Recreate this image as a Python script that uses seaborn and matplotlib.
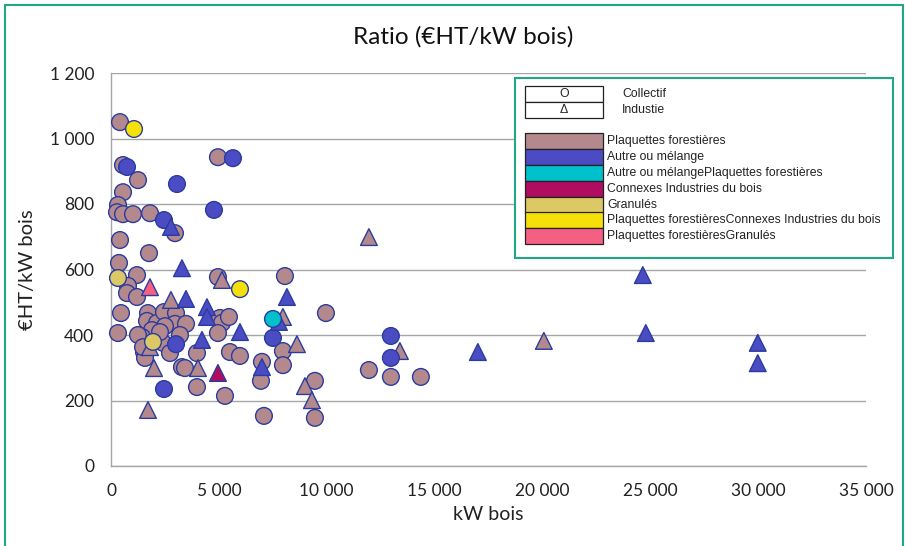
import matplotlib
matplotlib.use("Agg")
import matplotlib.pyplot as plt
from matplotlib.patches import Rectangle
from matplotlib.ticker import FuncFormatter, MultipleLocator
import seaborn as sns
import pandas as pd

sns.set_style("white")
plt.rcParams['font.family'] = ['Lato', 'DejaVu Sans']

# ---------------- data ----------------
categories = [
    "Plaquettes forestières",
    "Autre ou mélange",
    "Autre ou mélangePlaquettes forestières",
    "Connexes Industries du bois",
    "Granulés",
    "Plaquettes forestièresConnexes Industries du bois",
    "Plaquettes forestièresGranulés",
]
cat_colors = ["#B4898E", "#4B4BC3", "#00C0CC", "#B00C60", "#DCC864", "#F5E00A", "#F55F82"]
types = ["Collectif", "Industie"]
type_symbols = ["O", "Δ"]

# Plaquettes forestières - Collectif
pf_col_x = [417, 556, 1251, 556, 324, 278, 556, 1019, 1807, 2966, 4958, 417, 1761, 371,
            1205, 788, 741, 1205, 4958, 8063, 463, 324, 1715, 1668, 2132, 2456, 3012,
            2966, 2502, 3476, 1900, 1437, 1251, 3197, 2410, 2734, 1529, 1576, 1483,
            3290, 3429, 3985, 5283, 5051, 5144, 5468, 4958, 3985, 5514, 5978, 9963,
            7970, 6997, 7970, 6951, 9453, 7090, 9453, 11956, 12975, 14365, 2271]
pf_col_y = [1050, 919, 873, 836, 797, 775, 769, 769, 772, 711, 943, 690, 650, 620,
            583, 550, 528, 516, 577, 580, 467, 406, 467, 443, 437, 470, 467,
            434, 427, 434, 415, 394, 400, 400, 376, 345, 348, 330, 363,
            302, 299, 241, 214, 452, 437, 455, 406, 345, 348, 336, 467,
            351, 318, 308, 260, 260, 153, 147, 293, 272, 272, 409]
# Plaquettes forestières - Industie
pf_ind_x = [5144, 11956, 2780, 7970, 8619, 8990, 9314, 13392, 20065, 1993, 4032, 1715, 1807]
pf_ind_y = [568, 699, 507, 455, 372, 244, 201, 351, 382, 299, 299, 171, 363]
# Autre ou mélange - Collectif
am_col_x = [741, 3058, 2456, 4773, 5653, 3012, 2456, 7507, 12975, 12975]
am_col_y = [913, 861, 751, 782, 940, 372, 235, 391, 397, 330]
# Autre ou mélange - Industie
am_ind_x = [2780, 3290, 3476, 4449, 4449, 5978, 4217, 8156, 7785, 6997, 17007, 24653, 24792, 29982, 29982]
am_ind_y = [730, 604, 510, 485, 455, 409, 385, 516, 440, 302, 348, 583, 406, 376, 314]
# Autre ou mélangePlaquettes forestières - Collectif
amp_col_x = [7507]
amp_col_y = [449]
# Connexes Industries du bois - Industie
cib_ind_x = [4958]
cib_ind_y = [284]
# Granulés - Collectif
gr_col_x = [324, 1946]
gr_col_y = [574, 379]
# Plaquettes forestièresConnexes Industries du bois - Collectif
pfc_col_x = [1066, 5978]
pfc_col_y = [1029, 540]
# Plaquettes forestièresGranulés - Industie
pfg_ind_x = [1807]
pfg_ind_y = [546]

title = "Ratio (€HT/kW bois)"
xlabel = "kW bois"
ylabel = "€HT/kW bois"

# ---------------- build table ----------------
groups = [
    (pf_col_x, pf_col_y, categories[0], types[0]),
    (pf_ind_x, pf_ind_y, categories[0], types[1]),
    (am_col_x, am_col_y, categories[1], types[0]),
    (am_ind_x, am_ind_y, categories[1], types[1]),
    (amp_col_x, amp_col_y, categories[2], types[0]),
    (cib_ind_x, cib_ind_y, categories[3], types[1]),
    (gr_col_x, gr_col_y, categories[4], types[0]),
    (pfc_col_x, pfc_col_y, categories[5], types[0]),
    (pfg_ind_x, pfg_ind_y, categories[6], types[1]),
]
rows = []
for xs, ys, c, t in groups:
    for xv, yv in zip(xs, ys):
        rows.append({"kW": xv, "ratio": yv, "combustible": c, "type": t})
df = pd.DataFrame(rows)

W, H = 905, 546
fig = plt.figure(figsize=(W / 100, H / 100), dpi=100)
ax = fig.add_axes([111 / W, 1 - 466 / H, (866 - 111) / W, (466 - 73) / H])

edge = "#2A3C9E"
sns.scatterplot(data=df, x="kW", y="ratio", hue="combustible", style="type",
                palette=dict(zip(categories, cat_colors)),
                markers={"Collectif": "o", "Industie": "^"},
                s=145, edgecolor=edge, linewidth=1.0, legend=False, ax=ax, zorder=3,
                clip_on=False)

ax.set_xlim(0, 35000)
ax.set_ylim(0, 1200)
ax.xaxis.set_major_locator(MultipleLocator(5000))
ax.yaxis.set_major_locator(MultipleLocator(200))
fmt = FuncFormatter(lambda v, p: f"{int(v):,}".replace(",", " "))
ax.xaxis.set_major_formatter(fmt)
ax.yaxis.set_major_formatter(fmt)

grid_c = "#A6A6A6"
ax.grid(axis="y", color=grid_c, linewidth=1.0, zorder=0)
ax.set_axisbelow(True)
for s in ["top", "right"]:
    ax.spines[s].set_visible(False)
for s in ["left", "bottom"]:
    ax.spines[s].set_color(grid_c)
    ax.spines[s].set_linewidth(1.0)
ax.tick_params(axis="both", which="both", direction="out", length=4, width=1,
               color=grid_c, labelsize=12.5, labelcolor="#222222")
ax.tick_params(axis="x", pad=8)
ax.tick_params(axis="y", pad=8)
ax.set_xlabel(xlabel, fontsize=14, color="#222222", labelpad=5)
ax.set_ylabel(ylabel, fontsize=14.5, color="#222222", labelpad=10)
fig.text(463 / W, 1 - 37 / H, title, fontsize=17.5, ha="center", va="center", color="#111111")

# outer border
def fx(x):
    return x / W

def fy(y):
    return 1 - y / H

teal = "#20A882"
fig.patches.append(Rectangle((fx(5), fy(560)), fx(903) - fx(5), fy(5) - fy(560),
                             transform=fig.transFigure, fill=False, edgecolor=teal,
                             linewidth=1.5, zorder=10))

# custom legend
fig.patches.append(Rectangle((fx(515), fy(258)), fx(893) - fx(515), fy(78) - fy(258),
                             transform=fig.transFigure, facecolor="white", edgecolor=teal,
                             linewidth=1.5, zorder=5))
lfont = ['Liberation Sans', 'DejaVu Sans']
for i, (sym, lab) in enumerate(zip(type_symbols, types)):
    y0 = 86 + i * 16
    fig.patches.append(Rectangle((fx(525), fy(y0 + 16)), fx(603) - fx(525), fy(y0) - fy(y0 + 16),
                                 transform=fig.transFigure, facecolor="white", edgecolor="#222222",
                                 linewidth=0.9, zorder=6))
    fig.text(fx(564), fy(y0 + 8), sym, fontsize=8.8, ha="center", va="center",
             family=lfont, color="#222222", zorder=7)
    fig.text(fx(622), fy(y0 + 8), lab, fontsize=8.8, ha="left", va="center",
             family=lfont, color="#222222", zorder=7)
rh = 15.9
for i, (c, col) in enumerate(zip(categories, cat_colors)):
    y0 = 133 + i * rh
    fig.patches.append(Rectangle((fx(525), fy(y0 + rh)), fx(603) - fx(525), fy(y0) - fy(y0 + rh),
                                 transform=fig.transFigure, facecolor=col, edgecolor="#222222",
                                 linewidth=0.9, zorder=6))
    fig.text(fx(607), fy(y0 + rh / 2), c, fontsize=8.8, ha="left", va="center",
             family=lfont, color="#222222", zorder=7)

fig.savefig("out.png", dpi=100)
